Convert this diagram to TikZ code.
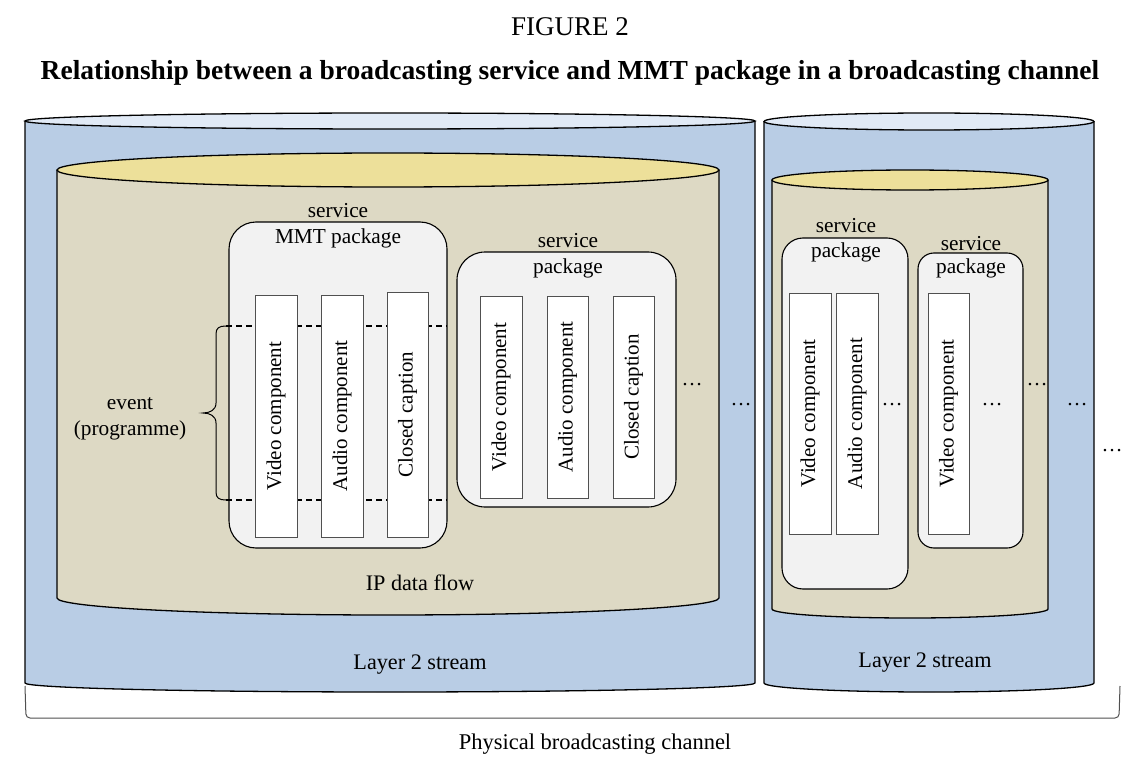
\documentclass[tikz,border=0pt]{standalone}
\usepackage{fontspec}
\setmainfont{Liberation Serif}
\definecolor{bluebody}{HTML}{B9CDE5}
\definecolor{bluetop}{HTML}{E1EAF6}
\definecolor{tanbody}{HTML}{DDD9C4}
\definecolor{yeltop}{HTML}{EDE09A}
\definecolor{pkgfill}{HTML}{F2F2F2}
\definecolor{compline}{HTML}{505050}
\begin{document}
\begin{tikzpicture}[x=1pt,y=-1pt,
  cyl/.style={draw=black,line width=1.3pt},
  pkgbox/.style={draw=black,line width=1.1pt,fill=pkgfill,inner sep=0pt},
  compbox/.style={draw=compline,line width=1pt,fill=white,rotate=90,inner sep=0pt,
     font=\fontsize{21}{25}\selectfont},
  lbl/.style={inner sep=0pt,anchor=base,font=\fontsize{21.3}{25}\selectfont},
  biglbl/.style={inner sep=0pt,anchor=base,font=\fontsize{22.2}{26}\selectfont},
  dotsn/.style={inner sep=0pt,anchor=base,font=\fontsize{21}{25}\selectfont},
  evdash/.style={dashed,dash pattern=on 6pt off 4pt,line width=1.4pt}]
\useasboundingbox (0,0) rectangle (1148,770);

% titles
\node[inner sep=0pt,anchor=base,font=\fontsize{27}{32}\selectfont] (fig) at (570,36) {FIGURE 2};
\node[inner sep=0pt,anchor=base,font=\fontsize{27.5}{32}\selectfont\bfseries] (title) at (570,80)
  {Relationship between a broadcasting service and MMT package in a broadcasting channel};

% left layer 2 cylinder
\fill[bluebody] (25,121) -- (25,683) arc[start angle=180,end angle=0,x radius=365,y radius=9] -- (755,121) -- cycle;
\draw[cyl] (25,121) -- (25,683) arc[start angle=180,end angle=0,x radius=365,y radius=9] -- (755,121);
\draw[cyl,fill=bluetop] (390,121) ellipse[x radius=365,y radius=8];

% right layer 2 cylinder
\fill[bluebody] (764,121.5) -- (764,683) arc[start angle=180,end angle=0,x radius=165,y radius=9] -- (1094,121.5) -- cycle;
\draw[cyl] (764,121.5) -- (764,683) arc[start angle=180,end angle=0,x radius=165,y radius=9] -- (1094,121.5);
\draw[cyl,fill=bluetop] (929,121.5) ellipse[x radius=165,y radius=8.5];

% left IP cylinder
\fill[tanbody] (57,170) -- (57,598) arc[start angle=180,end angle=0,x radius=331,y radius=17] -- (719,170) -- cycle;
\draw[cyl] (57,170) -- (57,598) arc[start angle=180,end angle=0,x radius=331,y radius=17] -- (719,170);
\draw[cyl,fill=yeltop] (388,170) ellipse[x radius=331,y radius=17];

% right IP cylinder
\fill[tanbody] (772,180) -- (772,609) arc[start angle=180,end angle=0,x radius=138,y radius=9] -- (1048,180) -- cycle;
\draw[cyl] (772,180) -- (772,609) arc[start angle=180,end angle=0,x radius=138,y radius=9] -- (1048,180);
\draw[cyl,fill=yeltop] (910,180) ellipse[x radius=138,y radius=10];

% packages
\node[pkgbox,rounded corners=27pt,minimum width=218,minimum height=326] (mmt) at (338,385) {};
\node[pkgbox,rounded corners=28pt,minimum width=219,minimum height=255] (pkgb) at (566.5,379.5) {};
\node[pkgbox,rounded corners=21pt,minimum width=126,minimum height=351] (pkgc) at (845,413.5) {};
\node[pkgbox,rounded corners=16pt,minimum width=105,minimum height=295] (pkgd) at (970.5,400.5) {};

% package labels
\node[lbl] (mmts) at (338,218) {service};
\node[lbl] (mmtp) at (338,243) {MMT package};
\node[lbl] (pkgbs) at (568,247) {service};
\node[lbl] (pkgbp) at (568,273) {package};
\node[lbl] (pkgcs) at (846,233) {service};
\node[lbl] (pkgcp) at (846,257) {package};
\node[lbl] (pkgds) at (971,250) {service};
\node[lbl] (pkgdp) at (971,273) {package};

% event brace and dashed bounds
\coordinate (evt) at (226,326);
\coordinate (evb) at (226,500);
\coordinate (evte) at (447,326);
\coordinate (evbe) at (447,500);
\draw[evdash] (evt) -- (evte);
\draw[evdash] (evb) -- (evbe);
\draw[line width=1pt] (evt) .. controls (219,326) and (216,328) .. (216,334) -- (216,403)
  .. controls (216,410) and (210,413) .. (203,413)
  .. controls (210,413) and (216,416) .. (216,423) -- (216,492)
  .. controls (216,498) and (219,500) .. (evb);
\node[lbl] (ev1) at (130,409) {event};
\node[lbl] (ev2) at (130,435) {(programme)};

% components
\node[compbox,minimum width=242,minimum height=42] (c1) at (276,416) {Video component};
\node[compbox,minimum width=242,minimum height=42] (c2) at (342,416) {Audio component};
\node[compbox,minimum width=245,minimum height=41] (c3) at (407.5,414.5) {Closed caption};
\node[compbox,minimum width=202,minimum height=42] (c4) at (501,397) {Video component};
\node[compbox,minimum width=202,minimum height=41] (c5) at (567.5,397) {Audio component};
\node[compbox,minimum width=202,minimum height=41] (c6) at (633.5,397) {Closed caption};
\node[compbox,minimum width=241,minimum height=42] (c7) at (810,413.5) {Video component};
\node[compbox,minimum width=241,minimum height=42] (c8) at (857,413.5) {Audio component};
\node[compbox,minimum width=241,minimum height=41] (c9) at (948.5,413.5) {Video component};

% dots
\node[dotsn] (d1) at (692,385) {…};
\node[dotsn] (d2) at (741,405) {…};
\node[dotsn] (d3) at (892,405) {…};
\node[dotsn] (d4) at (992,405) {…};
\node[dotsn] (d5) at (1037,385) {…};
\node[dotsn] (d6) at (1077,405) {…};
\node[dotsn] (d7) at (1112,451) {…};

% inner labels
\node[biglbl] (ip) at (420,590) {IP data flow};
\node[biglbl] (l2a) at (420,669) {Layer 2 stream};
\node[biglbl] (l2b) at (925,667) {Layer 2 stream};

% physical channel bracket
\coordinate (bl) at (25,686);
\coordinate (br) at (1120,686);
\draw[draw=compline,line width=1pt,rounded corners=4pt] (bl) -- (26,718) -- (1119,718) -- (br);
\node[biglbl,font=\fontsize{22.5}{26}\selectfont] (phys) at (595,749) {Physical broadcasting channel};
\end{tikzpicture}
\end{document}
